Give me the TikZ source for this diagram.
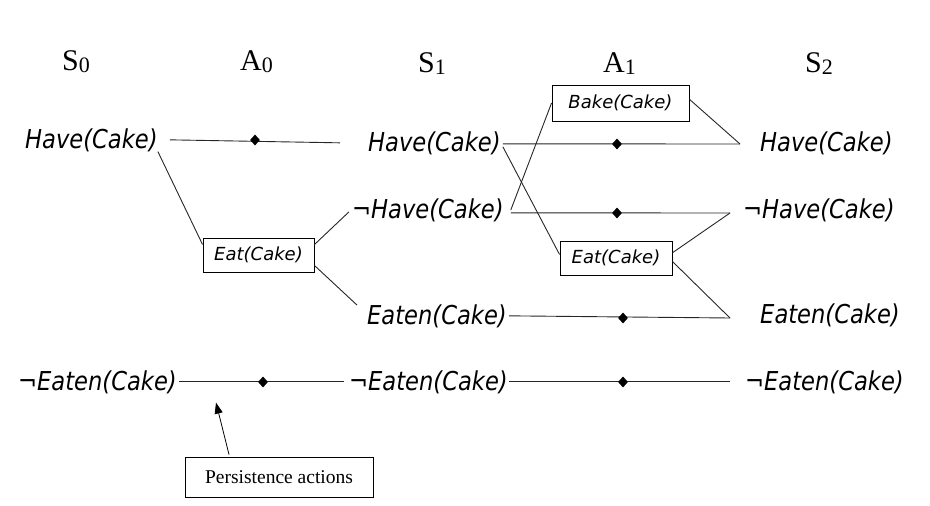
\documentclass[tikz,border=0pt]{standalone}
\usepackage{fontspec}
\setmainfont{Liberation Serif}
\newfontfamily\litfont{DejaVu Sans}
\usetikzlibrary{calc,arrows.meta,shapes.geometric}
\newcommand\lowsub[1]{\raisebox{-2.5pt}{\fontsize{22}{22}\selectfont #1}}
\newcommand\narrowlit[1]{\scalebox{0.87}[1]{#1}}
\tikzset{
  lit/.style={font=\litfont\itshape\fontsize{26}{30}\selectfont, inner sep=0pt, anchor=base west},
  act/.style={draw, line width=0.9pt, font=\litfont\itshape\fontsize{18}{21}\selectfont, inner sep=0pt},
  hdr/.style={font=\fontsize{30}{34}\selectfont, inner sep=0pt, anchor=base west},
  dot/.style={diamond, fill=black, inner sep=0pt, minimum width=10pt, minimum height=11pt},
  link/.style={line width=0.9pt, black!85},
}
\begin{document}
\begin{tikzpicture}[x=1pt,y=-1pt]
\useasboundingbox (0,0) rectangle (930,506);
% headers
\node[hdr] (s0) at (62,70) {S\lowsub{0}};
\node[hdr] (a0) at (240,70) {A\lowsub{0}};
\node[hdr] (s1) at (418,72) {S\lowsub{1}};
\node[hdr] (a1) at (603,72) {A\lowsub{1}};
\node[hdr] (s2) at (805,72) {S\lowsub{2}};
% state literals
\node[lit] (h0) at (25,148) {\narrowlit{Have(Cake)}};
\node[lit] (ne0) at (18,390) {\narrowlit{¬Eaten(Cake)}};
\node[lit] (h1) at (368,151) {\narrowlit{Have(Cake)}};
\node[lit] (nh1) at (352,218) {\narrowlit{¬Have(Cake)}};
\node[lit] (e1) at (367,324) {\narrowlit{Eaten(Cake)}};
\node[lit] (ne1) at (349,390) {\narrowlit{¬Eaten(Cake)}};
\node[lit] (h2) at (760,151) {\narrowlit{Have(Cake)}};
\node[lit] (nh2) at (743,218) {\narrowlit{¬Have(Cake)}};
\node[lit] (e2) at (760,323) {\narrowlit{Eaten(Cake)}};
\node[lit] (ne2) at (745,390) {\narrowlit{¬Eaten(Cake)}};
% actions
\node[act, minimum width=111pt, minimum height=34pt] (eat0) at (258.5,255) {Eat(Cake)};
\node[act, minimum width=137pt, minimum height=36pt] (bake1) at (620.5,103) {Bake(Cake)};
\node[act, minimum width=112pt, minimum height=34pt] (eat1) at (616,258) {Eat(Cake)};
% join points on the S2 side
\coordinate (jh) at (740,144);
\coordinate (jnh) at (730,213);
\coordinate (je) at (730,318);
% persistence lines
\draw[link] ([xshift=12pt]h0.east) -- ([xshift=-28pt]h1.west);
\draw[link] ([xshift=2pt,yshift=-1pt]h1.east) -- (jh);
\draw[link] ([xshift=7pt,yshift=-3pt]nh1.east) -- (jnh);
\draw[link] ([xshift=2pt]e1.east) -- (je);
\draw[link] ([xshift=2pt]ne0.east) -- ([xshift=-5pt]ne1.west);
\draw[link] ([xshift=1pt]ne1.east) -- ([xshift=-15pt]ne2.west);
% persistence diamonds
\node[dot] (d1) at (255,140) {};
\node[dot] (d2) at (617,144) {};
\node[dot] (d3) at (617,213) {};
\node[dot] (d4) at (623,318) {};
\node[dot] (d5) at (263,382) {};
\node[dot] (d6) at (623,382) {};
% action links
\draw[link] (h0.south east) -- ($(eat0.west)!0.6!(eat0.north west)$);
\draw[link] ($(eat0.east)!0.6!(eat0.north east)$) -- ([xshift=-3pt,yshift=-2pt]nh1.west);
\draw[link] ($(eat0.east)!0.6!(eat0.south east)$) -- ([xshift=-10pt,yshift=-1pt]e1.north west);
\draw[link] ([xshift=7pt]nh1.east) -- (bake1.west);
\draw[link] ([xshift=2pt,yshift=-4pt]h1.east) -- ($(eat1.west)!0.2!(eat1.north west)$);
\draw[link] ($(bake1.east)!0.2!(bake1.north east)$) -- (jh);
\draw[link] ($(eat1.east)!0.3!(eat1.north east)$) -- (jnh);
\draw[link] ($(eat1.east)!0.2!(eat1.south east)$) -- (je);
% annotation
\node[draw, line width=0.8pt, minimum width=188pt, minimum height=40pt, inner sep=0pt, font=\fontsize{19.5}{22}\selectfont] (pers) at (279,477) {Persistence actions};
\draw[line width=0.8pt, -{Triangle[length=11pt,width=8pt]}] ([xshift=-50pt,yshift=2pt]pers.north) -- ([xshift=-63pt,yshift=54pt]pers.north);
\end{tikzpicture}
\end{document}
